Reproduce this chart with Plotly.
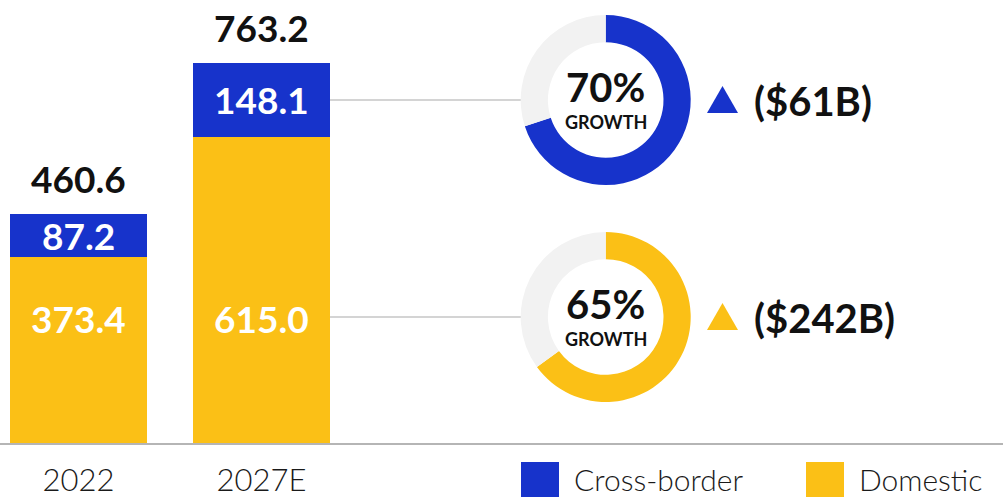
import plotly.graph_objects as go

# data
years = ["2022", "2027E"]
domestic = [373.4, 615.0]
cross_border = [87.2, 148.1]
totals = [460.6, 763.2]
growth_pct = [70, 65]          # cross-border, domestic
growth_abs = ["($61B)", "($242B)"]
series_names = ["Cross-border", "Domestic"]

BLUE = "#1733CB"
YELLOW = "#FBC016"
GREY = "#F2F2F2"
INK = "#111111"
FONT = "Lato"
THIN = "Lato Light, Lato"

W, H = 1003, 497
MB = 54                      # bottom margin in px
PH = H - MB                  # plot height in px


def py(pix):
    # pixel from top -> paper y
    return (PH - pix) / PH


def px(pix):
    return pix / W


bar_w = 0.749
xpos = list(range(len(years)))

fig = go.Figure()
fig.add_trace(go.Bar(x=xpos, y=domestic, name=series_names[1], marker_color=YELLOW,
                     width=bar_w, marker_line_width=0, showlegend=False, hoverinfo="skip"))
fig.add_trace(go.Bar(x=xpos, y=cross_border, name=series_names[0], marker_color=BLUE,
                     width=bar_w, marker_line_width=0, showlegend=False, hoverinfo="skip"))

# donuts
donuts = [
    dict(val=growth_pct[0], color=BLUE, cy=100),
    dict(val=growth_pct[1], color=YELLOW, cy=317),
]
R = 85
CX = 605.7
for d in donuts:
    fig.add_trace(go.Pie(
        values=[d["val"], 100 - d["val"]],
        marker=dict(colors=[d["color"], GREY], line=dict(width=0)),
        hole=0.68, sort=False, direction="clockwise", rotation=0,
        textinfo="none", hoverinfo="skip", showlegend=False,
        domain=dict(x=[px(CX - R), px(CX + R)], y=[py(d["cy"] + R), py(d["cy"] - R)]),
    ))

ann = []
# totals above bars
for i, t in enumerate(totals):
    ann.append(dict(x=xpos[i], y=t, xref="x", yref="y", text=f"{t:.1f}", showarrow=False,
                    yanchor="bottom", yshift=11,
                    font=dict(family=FONT, size=37, color=INK, weight="bold")))
# cross-border labels in segment
for i in range(len(years)):
    ann.append(dict(x=xpos[i], y=domestic[i] + cross_border[i] / 2, xref="x", yref="y",
                    text=f"{cross_border[i]:.1f}", showarrow=False, yanchor="middle",
                    font=dict(family=FONT, size=37, color="white", weight="bold")))
# domestic labels (aligned with lower connector)
for i in range(len(years)):
    ann.append(dict(x=xpos[i], y=py(318), xref="x", yref="paper",
                    text=f"{domestic[i]:.1f}", showarrow=False, yanchor="middle",
                    font=dict(family=FONT, size=37, color="white", weight="bold")))

shapes = []
bar_right = 78.5 + 183 * (1 + bar_w / 2)
for j, d in enumerate(donuts):
    # connector line
    shapes.append(dict(type="line", xref="paper", yref="paper",
                       x0=px(bar_right), x1=px(CX - R), y0=py(d["cy"]), y1=py(d["cy"]),
                       line=dict(color="#A9A9A9", width=1.2)))
    # growth text inside donut
    ann.append(dict(x=px(CX), y=py(d["cy"] - 13), xref="paper", yref="paper",
                    text=f"{growth_pct[j]}%", showarrow=False, yanchor="middle",
                    font=dict(family=FONT, size=40, color=INK, weight="bold")))
    ann.append(dict(x=px(CX), y=py(d["cy"] + 22), xref="paper", yref="paper",
                    text="GROWTH", showarrow=False, yanchor="middle",
                    font=dict(family=FONT, size=18, color=INK, weight="bold")))
    # triangle
    tx0, tx1 = 707, 738
    ty_top, ty_bot = d["cy"] - 14, d["cy"] + 13
    shapes.append(dict(type="path", xref="paper", yref="paper",
                       path=f"M {px(tx0)},{py(ty_bot)} L {px(tx1)},{py(ty_bot)} L {px((tx0 + tx1) / 2)},{py(ty_top)} Z",
                       fillcolor=d["color"], line=dict(width=0)))
    ann.append(dict(x=px(752), y=py(d["cy"] + 1), xref="paper", yref="paper",
                    text=growth_abs[j], showarrow=False, xanchor="left", yanchor="middle",
                    font=dict(family=FONT, size=40, color=INK, weight="bold")))

# legend (manual, large swatches)
leg = [(521, series_names[0], BLUE), (806, series_names[1], YELLOW)]
for x0, name, col in leg:
    shapes.append(dict(type="rect", xref="paper", yref="paper",
                       x0=px(x0), x1=px(x0 + 38), y0=py(497), y1=py(462),
                       fillcolor=col, line=dict(width=0)))
    ann.append(dict(x=px(x0 + 51), y=py(479), xref="paper", yref="paper",
                    text=name, showarrow=False, xanchor="left", yanchor="middle",
                    font=dict(family=THIN, size=30, color="#1a1a1a", weight=300)))

fig.update_layout(
    width=W, height=H,
    margin=dict(l=0, r=0, t=0, b=MB, autoexpand=False),
    barmode="stack",
    plot_bgcolor="white", paper_bgcolor="white",
    font=dict(family=FONT, color=INK),
    showlegend=False,
    annotations=ann,
    shapes=shapes,
    xaxis=dict(range=[-78.5 / 183, (W - 78.5) / 183], tickvals=xpos, ticktext=years,
               showgrid=False, zeroline=False, showline=True, linecolor="#B5B5B5", linewidth=1.5,
               ticks="", ticklabelstandoff=9, automargin=False,
               tickfont=dict(family=THIN, size=31, color="#1a1a1a", weight=300),
               fixedrange=True),
    yaxis=dict(range=[0, PH / (380 / 763.2)], visible=False, fixedrange=True, automargin=False),
)

# page body has an 8px default margin; drop it so the figure fills the window
fig.write_html("out.html", config={"displayModeBar": False},
               post_script="document.body.style.margin='0';document.body.style.overflow='hidden';")
